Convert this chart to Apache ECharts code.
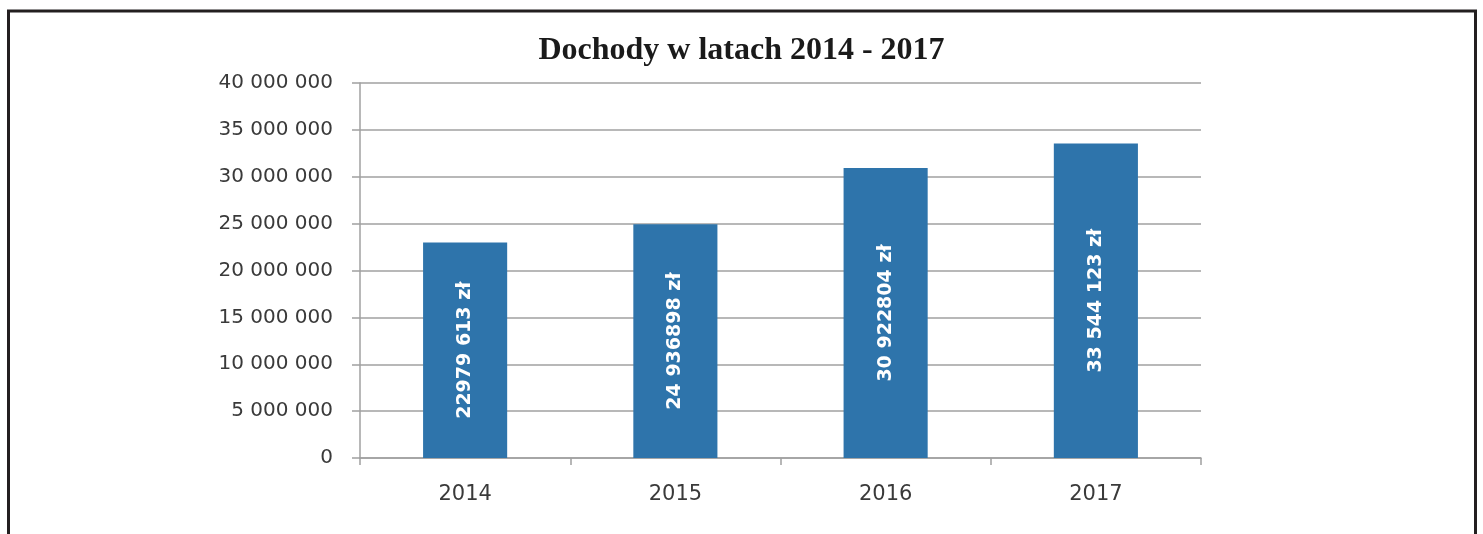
<!DOCTYPE html>
<html>
<head>
<meta charset="utf-8">
<script src="https://cdn.jsdelivr.net/npm/echarts@6/dist/echarts.min.js"></script>
<style>
  html, body { margin: 0; padding: 0; background: #fff; }
  #chart { width: 1483px; height: 534px; }
</style>
</head>
<body>
<div id="chart"></div>
<script>
// dochody gminy 2014-2017
const years = ['2014', '2015', '2016', '2017'];
const incomes = [22979613, 24936898, 30922804, 33544123];
const barLabels = ['22979 613 zł', '24 936898 zł', '30 922804 zł', '33 544 123 zł'];

const chart = echarts.init(document.getElementById('chart'));

// odstępy tysięcy spacją, jak w Excelu
function formatThousands(v) {
    return String(v).replace(/\B(?=(\d{3})+(?!\d))/g, ' ');
}

const option = {
    animation: false,
    backgroundColor: '#fff',
    title: {
        text: 'Dochody w latach 2014 - 2017',
        left: 'center',
        top: 30,
        textStyle: {
            fontFamily: 'Liberation Serif',
            fontWeight: 'bold',
            fontSize: 32,
            color: '#1a1a1a'
        }
    },
    graphic: [
        {
            type: 'rect',
            shape: { x: 8.5, y: 11, width: 1467, height: 600 },
            style: { fill: 'none', stroke: '#231f20', lineWidth: 3 },
            silent: true
        }
    ],
    grid: {
        left: 360,
        right: 282,
        top: 83,
        bottom: 76
    },
    xAxis: {
        type: 'category',
        data: years,
        axisLine: { lineStyle: { color: '#a0a0a0', width: 1.5 } },
        axisTick: { show: true, length: 7, lineStyle: { color: '#a0a0a0', width: 1.5 } },
        axisLabel: {
            margin: 26,
            fontFamily: 'DejaVu Sans',
            fontSize: 21,
            color: '#3a3a3a'
        }
    },
    yAxis: {
        type: 'value',
        min: 0,
        max: 40000000,
        interval: 5000000,
        axisLine: { show: true, lineStyle: { color: '#a0a0a0', width: 1.5 } },
        axisTick: { show: true, length: 8, lineStyle: { color: '#a0a0a0', width: 1.5 } },
        splitLine: { lineStyle: { color: '#a0a0a0', width: 1.5 } },
        axisLabel: {
            margin: 27,
            fontFamily: 'DejaVu Sans',
            fontSize: 20,
            color: '#3a3a3a',
            formatter: formatThousands
        }
    },
    series: [
        {
            type: 'bar',
            data: incomes,
            barWidth: '40%',
            itemStyle: { color: '#2e74ab' },
            label: {
                show: true,
                position: 'inside',
                rotate: 90,
                fontFamily: 'DejaVu Sans',
                fontWeight: 'bold',
                fontSize: 19,
                color: '#fff',
                formatter: (p) => barLabels[p.dataIndex]
            }
        }
    ]
};

chart.setOption(option);
</script>
</body>
</html>
